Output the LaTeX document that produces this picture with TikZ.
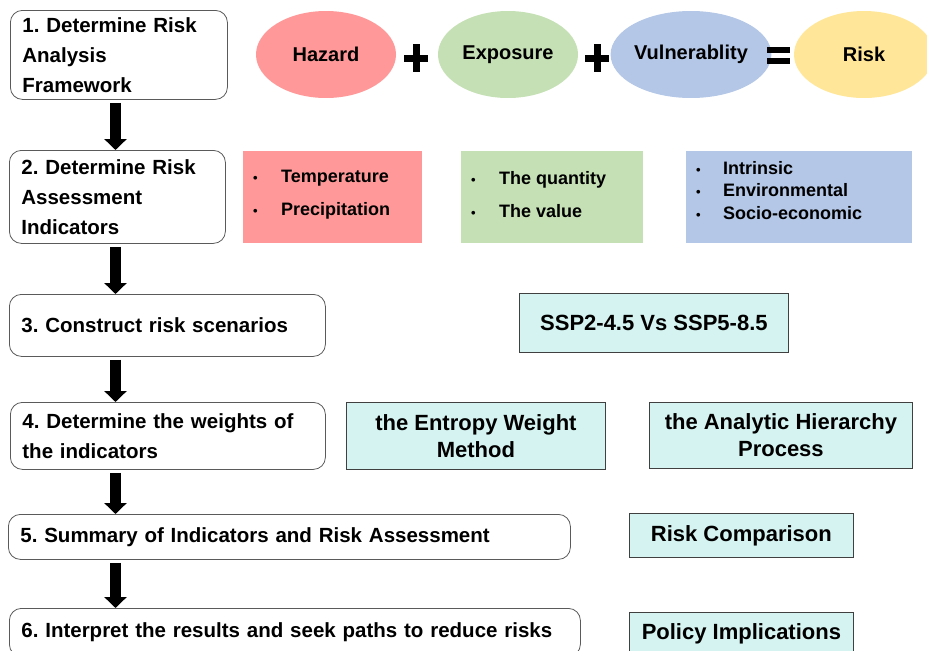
\documentclass[tikz,border=0pt]{standalone}
\usepackage{fontspec}
\setmainfont{Liberation Sans}
\usetikzlibrary{arrows.meta,shapes.geometric,calc}
\frenchspacing

\definecolor{hazred}{HTML}{FF9999}
\definecolor{expgreen}{HTML}{C5E0B4}
\definecolor{vulblue}{HTML}{B4C7E7}
\definecolor{riskyellow}{HTML}{FFE699}
\definecolor{cyanfill}{HTML}{D5F3F1}
\definecolor{stepline}{HTML}{5A5A5A}
\definecolor{infoline}{HTML}{404040}

\newcommand{\bulletitem}[2]{\makebox[#1][l]{{\fontsize{13}{13}\selectfont •}}#2}

\begin{document}
\begin{tikzpicture}[x=1pt,y=-1pt,
  stepbox/.style={draw=stepline, line width=0.8pt, rounded corners=12pt, fill=white,
    anchor=north west, inner xsep=12pt, inner ysep=0pt, align=left,
    font=\bfseries\fontsize{20.5}{30}\selectfont},
  factor/.style={ellipse, draw=none, minimum width=140pt, minimum height=87pt, inner sep=0pt,
    font=\bfseries\fontsize{20}{24}\selectfont},
  colbox/.style={draw=none, anchor=north west, inner sep=0pt},
  listtext/.style={anchor=west, inner sep=0pt, align=left},
  infobox/.style={draw=infoline, line width=0.8pt, fill=cyanfill, anchor=north west,
    inner sep=0pt, align=center, font=\bfseries\fontsize{22}{27}\selectfont},
  flow/.style={line width=11pt, -{Triangle[width=22pt,length=11pt]}, shorten <=3pt}
]
\clip (0,0) rectangle (927,651);

% ---- process steps on the left ----
\node[stepbox, text width=193pt, minimum height=89pt] (s1) at (10,10)
  {1. Determine Risk\\Analysis\\Framework};
\node[stepbox, text width=192pt, minimum height=93pt] (s2) at (9,150)
  {2. Determine Risk\\Assessment\\Indicators};
\node[stepbox, text width=292pt, minimum height=62pt] (s3) at (9,294)
  {3. Construct risk scenarios};
\node[stepbox, text width=291pt, minimum height=67pt] (s4) at (10,402)
  {4. Determine the weights of\\the indicators};
\node[stepbox, text width=538pt, minimum height=45pt] (s5) at (8,514)
  {5. Summary of Indicators and Risk Assessment};
\node[stepbox, text width=547pt, minimum height=48pt] (s6) at (9,608)
  {6. Interpret the results and seek paths to reduce risks};

% ---- downward flow arrows ----
\coordinate (spine) at (115.5,0);
\draw[flow] (s1.south -| spine) -- (s2.north -| spine);
\draw[flow] (s2.south -| spine) -- (s3.north -| spine);
\draw[flow] (s3.south -| spine) -- (s4.north -| spine);
\draw[flow] (s4.south -| spine) -- (s5.north -| spine);
\draw[flow] (s5.south -| spine) -- (s6.north -| spine);

% ---- risk equation ----
\node[factor, fill=hazred] (hazard) at (326,54.5) {Hazard};
\node[factor, fill=expgreen] (exposure) at (508,54.5) {Exposure};
\node[factor, fill=vulblue] (vulner) at (691,54.5) {Vulnerablity};
\node[factor, fill=riskyellow] (risk) at (864,54.5) {Risk};

% plus and equals signs
\fill (404,55) rectangle (428,62);
\fill (412.5,44) rectangle (419.5,72);
\fill (585,55) rectangle (609,62);
\fill (593.5,44) rectangle (600.5,72);
\fill (767,47) rectangle (790,53);
\fill (767,58) rectangle (790,64);

% ---- indicator groups ----
\node[colbox, fill=hazred, minimum width=179pt, minimum height=92pt] (hazbox) at (243,151) {};
\node[colbox, fill=expgreen, minimum width=182pt, minimum height=92pt] (expbox) at (461,151) {};
\node[colbox, fill=vulblue, minimum width=226pt, minimum height=92pt] (vulbox) at (686,151) {};

\node[listtext, font=\bfseries\fontsize{18}{33}\selectfont] (hazlist) at ($(hazbox.west)+(10,-2.5)$)
  {\bulletitem{28pt}{Temperature}\\\bulletitem{28pt}{Precipitation}};
\node[listtext, font=\bfseries\fontsize{18}{33}\selectfont] (explist) at ($(expbox.west)+(10,-2.5)$)
  {\bulletitem{28pt}{The quantity}\\\bulletitem{28pt}{The value}};
\node[listtext, font=\bfseries\fontsize{18}{22.5}\selectfont] (vullist) at ($(vulbox.west)+(10,-7)$)
  {\bulletitem{27pt}{Intrinsic}\\\bulletitem{27pt}{Environmental}\\\bulletitem{27pt}{Socio-economic}};

% ---- methods and outcomes ----
\node[infobox, minimum width=269pt, minimum height=59pt] (ssp) at (519,293) {SSP2-4.5 Vs SSP5-8.5};
\node[infobox, minimum width=259pt, minimum height=67pt] (entropy) at (346,402) {the Entropy Weight\\Method};
\node[infobox, minimum width=263pt, minimum height=66pt] (ahp) at (649,402) {the Analytic Hierarchy\\Process};
\node[infobox, minimum width=224pt, minimum height=44pt] (compare) at (629,513) {Risk Comparison};
\node[infobox, minimum width=224pt, minimum height=43pt] (policy) at (629,612) {Policy Implications};
\end{tikzpicture}
\end{document}
